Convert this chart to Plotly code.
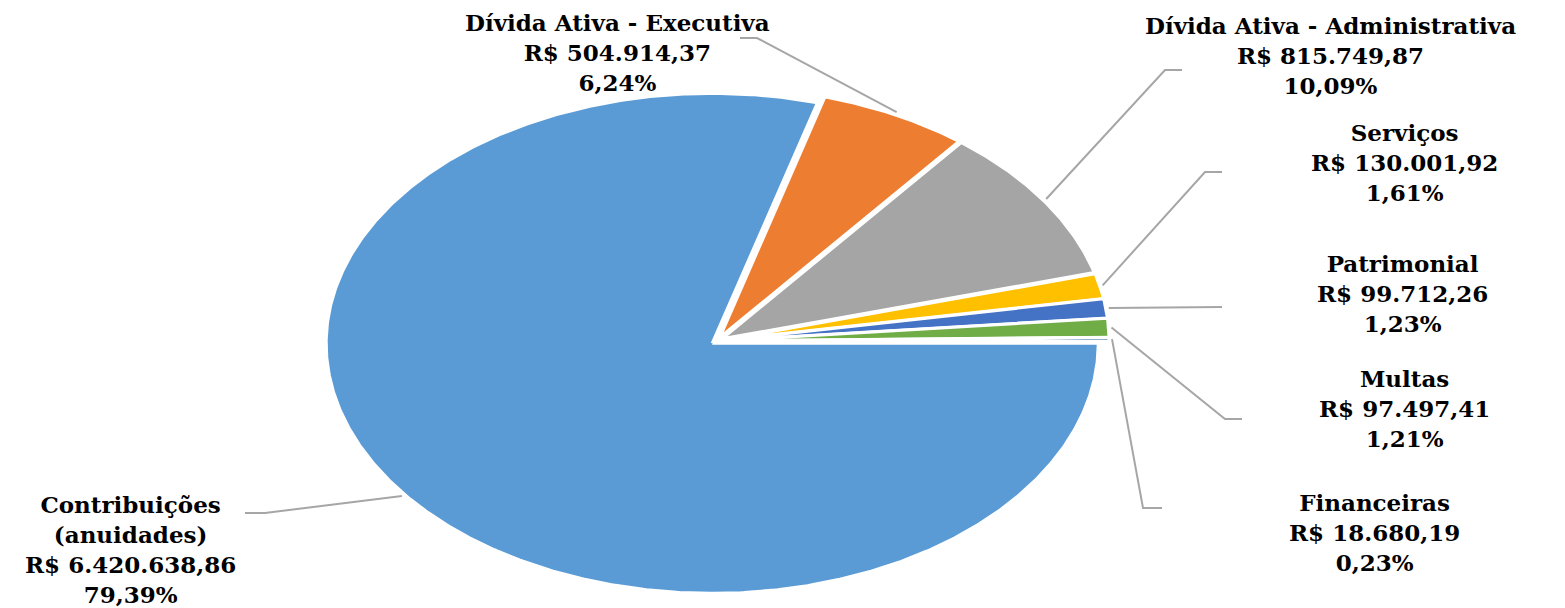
import numpy as np
import plotly.graph_objects as go

# ---- data ----
categories = [
    "Contribuições (anuidades)",
    "Dívida Ativa - Executiva",
    "Dívida Ativa - Administrativa",
    "Serviços",
    "Patrimonial",
    "Multas",
    "Financeiras",
]
values = [6420638.86, 504914.37, 815749.87, 130001.92, 99712.26, 97497.41, 18680.19]
colors = ["#5B9BD5", "#ED7D31", "#A5A5A5", "#FFC000", "#4472C4", "#70AD47", "#255E91"]

# ---- layout constants (axis units = screen pixels) ----
W, H = 1565, 608
PAGE_MARGIN = 8          # default <body> margin of the html page
CX, CY = 717, 341
RX, RY = 386, 250
EXPLODE = 3.9
START_DEG = 90

label_pos = [(130, 549), (617, 52), (1330, 55), (1404, 162), (1402, 293), (1404, 408), (1374, 532)]
leader_pts = [
    [(265, 513), (245, 513)],
    [(757, 38), (740, 38)],
    [(1165, 70), (1182, 70)],
    [(1205, 172), (1222, 172)],
    [(1222, 307)],
    [(1225, 419), (1242, 419)],
    [(1143, 508), (1162, 508)],
]


def brl(v):
    s = f"{v:,.2f}"
    return s.replace(",", "X").replace(".", ",").replace("X", ".")


total = sum(values)
fracs = [v / total for v in values]

fig = go.Figure()
cum = 0.0
arc_mid = []
for i, (name, f) in enumerate(zip(categories, fracs)):
    a0 = START_DEG + cum * 360
    a1 = a0 + f * 360
    cum += f
    mid = np.radians((a0 + a1) / 2)
    ox = EXPLODE * (RX / RY) * np.sin(mid)
    oy = -EXPLODE * np.cos(mid)
    phis = np.radians(np.linspace(a0, a1, max(int((a1 - a0) * 2), 3)))
    xs = [CX + ox] + list(CX + ox + RX * np.sin(phis)) + [CX + ox]
    ys = [CY + oy] + list(CY + oy - RY * np.cos(phis)) + [CY + oy]
    fig.add_trace(go.Scatter(x=xs, y=ys, fill="toself", fillcolor=colors[i],
                             mode="lines", line=dict(color="white", width=3),
                             name=name, hoverinfo="name", showlegend=False))
    arc_mid.append((CX + ox + (RX + 3) * np.sin(mid), CY + oy - (RY + 3) * np.cos(mid)))

# leader lines
for i in range(len(categories)):
    pts = [arc_mid[i]] + leader_pts[i]
    fig.add_trace(go.Scatter(x=[p[0] for p in pts], y=[p[1] for p in pts], mode="lines",
                             line=dict(color="#A6A6A6", width=2), hoverinfo="skip",
                             showlegend=False))

# labels
for i, name in enumerate(categories):
    disp = name.replace(" (", "<br>(")
    pct = f"{fracs[i]*100:.2f}".replace(".", ",")
    txt = f"<b>{disp}<br>R$ {brl(values[i])}<br>{pct}%</b>"
    fig.add_annotation(x=label_pos[i][0], y=label_pos[i][1], text=txt, showarrow=False,
                       xanchor="center", yanchor="middle", align="center",
                       font=dict(family="DejaVu Serif", size=23, color="#000000"))

fig.update_layout(
    width=W - PAGE_MARGIN, height=H - PAGE_MARGIN, margin=dict(l=0, r=0, t=0, b=0),
    paper_bgcolor="white", plot_bgcolor="white",
    xaxis=dict(range=[PAGE_MARGIN, W], visible=False, fixedrange=True),
    yaxis=dict(range=[H, PAGE_MARGIN], visible=False, fixedrange=True),
)
fig.write_html("out.html")
